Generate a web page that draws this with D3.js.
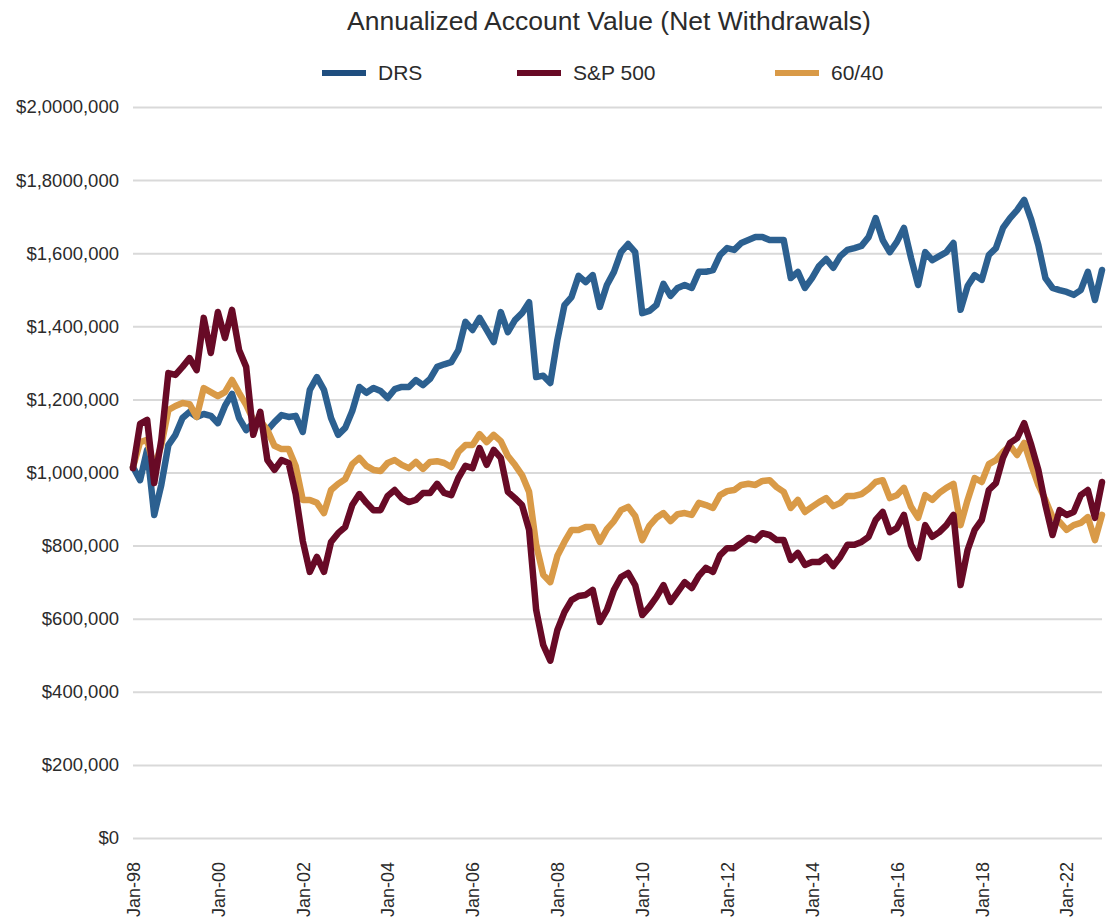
<!DOCTYPE html>
<html>
<head>
<meta charset="utf-8">
<script src="https://cdn.jsdelivr.net/npm/d3@7"></script>
<style>
    body { margin: 0; background: #fff; }
    text { font-family: "Liberation Sans", Arial, sans-serif; fill: #2b2b2b; }
</style>
</head>
<body>
<svg id="chart" width="1110" height="922"></svg>
<script>
// values in $ thousands, one point every 2 months starting Jan-98
var seriesNames = ["DRS", "S&P 500", "60/40"];
var monthStep = 2;

var drsValues = [
    1015, 979, 1062, 884, 966, 1075, 1103, 1149, 1166, 1152, 1160, 1155, 1135, 1182, 1215, 1149,
    1116, 1135, 1135, 1116, 1138, 1157, 1152, 1155, 1111, 1226, 1261, 1226, 1149, 1103, 1122, 1168,
    1234, 1218, 1231, 1223, 1204, 1228, 1234, 1234, 1253, 1239, 1256, 1289, 1296, 1302, 1335, 1412,
    1390, 1423, 1390, 1357, 1439, 1384, 1417, 1436, 1466, 1261, 1265, 1245, 1363, 1458, 1480, 1538,
    1521, 1540, 1453, 1513, 1549, 1603, 1625, 1603, 1436, 1442, 1458, 1516, 1483, 1505, 1513, 1505,
    1549, 1549, 1554, 1595, 1614, 1609, 1628, 1636, 1644, 1644, 1636, 1636, 1636, 1532, 1549, 1505,
    1532, 1565, 1584, 1560, 1592, 1609, 1614, 1620, 1644, 1696, 1636, 1603, 1631, 1669, 1587, 1513,
    1603, 1581, 1592, 1603, 1628, 1445, 1510, 1540, 1527, 1595, 1614, 1669, 1696, 1718, 1746, 1691,
    1622, 1532, 1505, 1499, 1494, 1486, 1499, 1549, 1472, 1554
];

var spValues = [
    1012, 1133, 1144, 971, 1089, 1272, 1267, 1289, 1313, 1280, 1423, 1327, 1439, 1368, 1445, 1335,
    1289, 1103, 1166, 1034, 1007, 1034, 1026, 941, 813, 728, 769, 728, 810, 834, 851, 911,
    941, 917, 897, 897, 936, 952, 930, 919, 925, 944, 944, 969, 944, 938, 985, 1018,
    1012, 1067, 1021, 1062, 1040, 947, 930, 911, 843, 624, 528, 485, 569, 618, 651, 662,
    665, 679, 591, 624, 679, 714, 725, 692, 610, 632, 659, 692, 646, 673, 700, 684,
    717, 739, 728, 774, 793, 793, 807, 821, 815, 834, 829, 815, 815, 761, 780, 747,
    755, 755, 769, 744, 769, 802, 802, 810, 824, 870, 892, 837, 848, 884, 802, 766,
    856, 824, 837, 856, 884, 692, 788, 843, 870, 952, 971, 1040, 1081, 1094, 1135, 1075,
    1007, 911, 829, 897, 884, 892, 938, 952, 876, 974
];

var balancedValues = [
    1015, 1083, 1089, 1012, 1075, 1171, 1182, 1190, 1187, 1152, 1231, 1220, 1209, 1220, 1253, 1218,
    1185, 1144, 1141, 1116, 1073, 1064, 1064, 1018, 925, 925, 917, 889, 952, 969, 982, 1023,
    1040, 1018, 1007, 1004, 1026, 1034, 1021, 1012, 1029, 1010, 1029, 1031, 1026, 1015, 1056, 1075,
    1075, 1105, 1083, 1103, 1086, 1045, 1021, 993, 947, 802, 720, 700, 772, 810, 843, 843,
    851, 851, 810, 845, 867, 897, 906, 881, 815, 854, 876, 889, 867, 886, 889, 884,
    917, 911, 903, 938, 949, 952, 966, 969, 966, 977, 979, 960, 947, 903, 925, 892,
    906, 919, 930, 908, 917, 936, 936, 941, 955, 974, 979, 930, 938, 958, 906, 876,
    938, 925, 944, 958, 969, 856, 925, 985, 974, 1023, 1034, 1056, 1073, 1048, 1081, 1021,
    966, 925, 878, 865, 843, 856, 862, 878, 815, 884
];

var yTicks = [0, 200, 400, 600, 800, 1000, 1200, 1400, 1600, 1800, 2000];
var yTickLabels = ["$0", "$200,000", "$400,000", "$600,000", "$800,000", "$1,000,000",
    "$1,200,000", "$1,400,000", "$1,600,000", "$1,8000,000", "$2,0000,000"];

var xTickMonths = [0, 24, 48, 72, 96, 120, 144, 168, 192, 216, 240, 264];
var xTickLabels = ["Jan-98", "Jan-00", "Jan-02", "Jan-04", "Jan-06", "Jan-08",
    "Jan-10", "Jan-12", "Jan-14", "Jan-16", "Jan-18", "Jan-22"];

function drawChart() {
    var svg = d3.select("#chart");
    var left = 133, right = 1102, top = 107, bottom = 838;

    var x = d3.scaleLinear()
        .domain([0, (drsValues.length - 1) * monthStep])
        .range([left, right]);
    var y = d3.scaleLinear()
        .domain([0, 2000])
        .range([bottom, top]);

    // gridlines + y labels
    var yAxis = svg.append("g")
        .attr("transform", "translate(" + left + ",0)")
        .call(d3.axisLeft(y)
            .tickValues(yTicks)
            .tickFormat(function(d, i) { return yTickLabels[i]; })
            .tickSize(-(right - left))
            .tickPadding(14));
    yAxis.select(".domain").remove();
    yAxis.selectAll(".tick line")
        .attr("stroke", "#d9d9d9")
        .attr("stroke-width", 2);
    yAxis.selectAll(".tick text")
        .style("font-size", "18.5px")
        .style("font-family", "'Liberation Sans', Arial, sans-serif")
        .attr("fill", "#2b2b2b");

    // x labels, rotated
    var xAxis = svg.append("g")
        .attr("transform", "translate(0," + bottom + ")")
        .call(d3.axisBottom(x)
            .tickValues(xTickMonths)
            .tickFormat(function(d, i) { return xTickLabels[i]; })
            .tickSize(0));
    xAxis.select(".domain").remove();
    xAxis.selectAll(".tick text")
        .attr("transform", "rotate(-90)")
        .attr("x", -24)
        .attr("y", 0)
        .attr("dy", ".35em")
        .style("text-anchor", "end")
        .style("font-size", "18px")
        .style("font-family", "'Liberation Sans', Arial, sans-serif")
        .attr("fill", "#2b2b2b");

    var line = d3.line()
        .x(function(d, i) { return x(i * monthStep); })
        .y(function(d) { return y(d); });

    var series = [
        { name: seriesNames[0], values: drsValues, color: "#2c6090" },
        { name: seriesNames[2], values: balancedValues, color: "#d99a47" },
        { name: seriesNames[1], values: spValues, color: "#680a26" }
    ];

    svg.append("g")
        .selectAll("path")
        .data(series)
        .enter().append("path")
        .attr("d", function(d) { return line(d.values); })
        .attr("fill", "none")
        .attr("stroke", function(d) { return d.color; })
        .attr("stroke-width", 6.5)
        .attr("stroke-linejoin", "round")
        .attr("stroke-linecap", "round");

    svg.append("text")
        .attr("x", 609)
        .attr("y", 30)
        .style("text-anchor", "middle")
        .style("font-size", "26.5px")
        .text("Annualized Account Value (Net Withdrawals)");

    // legend
    var legendItems = [
        { name: seriesNames[0], color: "#1f4e7f", x: 322 },
        { name: seriesNames[1], color: "#680a26", x: 517 },
        { name: seriesNames[2], color: "#d99a47", x: 775 }
    ];
    var legend = svg.append("g").selectAll("g")
        .data(legendItems)
        .enter().append("g")
        .attr("transform", function(d) { return "translate(" + d.x + ",73)"; });
    legend.append("line")
        .attr("x1", 0).attr("x2", 44)
        .attr("stroke", function(d) { return d.color; })
        .attr("stroke-width", 6);
    legend.append("text")
        .attr("x", 56)
        .attr("dy", ".35em")
        .style("font-size", "21px")
        .text(function(d) { return d.name; });
}

drawChart();
</script>
</body>
</html>
